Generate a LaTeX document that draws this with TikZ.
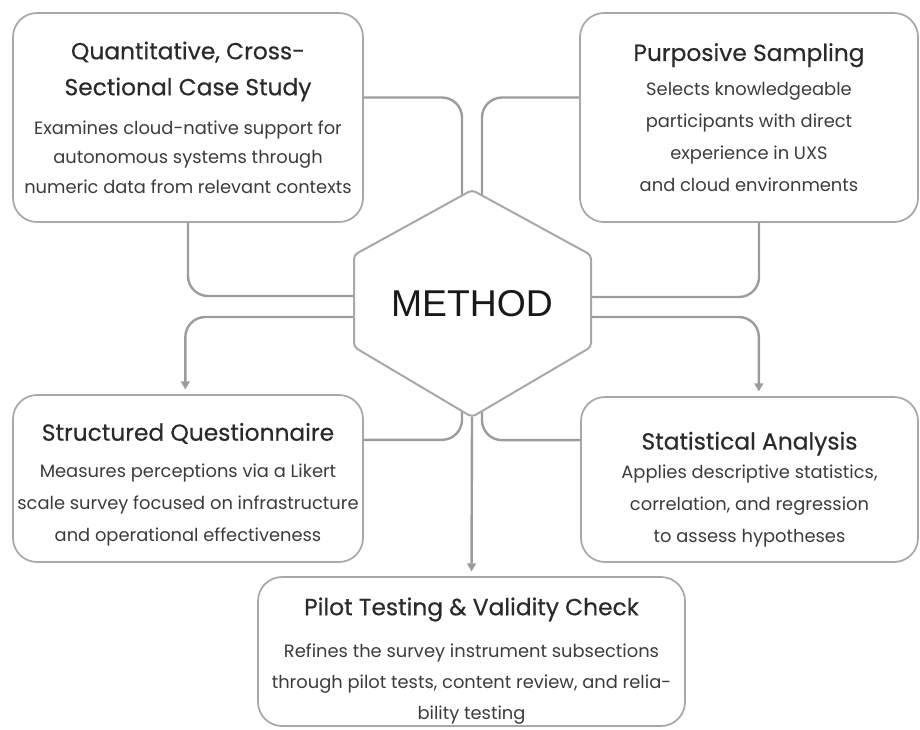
\documentclass[tikz,border=0pt]{standalone}
\usepackage{fontspec}
\usepackage{tikz}
\usepackage{xcolor}
\usetikzlibrary{arrows.meta,calc}
\setmainfont{Poppins}
\newfontfamily\cardtitlefont{Poppins}[FakeBold=0.4]
\newfontfamily\methodfont{Liberation Sans}
\definecolor{cardgray}{HTML}{A8A8A8}
\definecolor{linkgray}{HTML}{9C9C9C}
\definecolor{titleink}{HTML}{2A2A2A}
\definecolor{bodyink}{HTML}{3C3C3C}
\newcommand{\boxtitle}{\cardtitlefont\fontsize{17.5}{24}\selectfont\color{titleink}}
\newcommand{\boxbody}{\fontsize{13.4}{24}\selectfont\color{bodyink}}
\tikzset{
  card/.style={draw=cardgray, line width=1.3pt, rounded corners=18pt, fill=white, inner sep=0pt},
  cardtext/.style={align=center, font=\boxbody, inner sep=0pt},
  link/.style={draw=linkgray, line width=1.8pt, rounded corners=15pt},
  flow/.style={link, -{Triangle[length=6pt,width=6.5pt]}, shorten >=3.5pt},
}

\begin{document}
\begin{tikzpicture}[x=0.75pt,y=-0.75pt]
\useasboundingbox (0,0) rectangle (920,729);

\coordinate (hexN) at (472,190);
\coordinate (hexNE) at (591,255);
\coordinate (hexSE) at (591,347);
\coordinate (hexS) at (472,417);
\coordinate (hexSW) at (354,347);
\coordinate (hexNW) at (354,255);
\coordinate (portNW) at (462,196);% from case study
\coordinate (portNE) at (482,196);% from sampling
\coordinate (portWN) at (354,296);
\coordinate (portWS) at (354,317);
\coordinate (portEN) at (591,297);
\coordinate (portES) at (591,317);
\coordinate (portSW) at (462,411);
\coordinate (portSE) at (482,411);

% cards
\node[card, minimum width=262.5pt, minimum height=156.75pt] (quant) at (188,117.5) {};
\node[card, minimum width=253.5pt, minimum height=156.75pt] (sample) at (749,117.5) {};
\node[card, minimum width=262.5pt, minimum height=125.25pt] (quest) at (188,478.5) {};
\node[card, minimum width=252.75pt, minimum height=123.75pt] (stats) at (749.5,479.5) {};
\node[card, minimum width=320.25pt, minimum height=111.75pt] (pilot) at (471.5,651.5) {};

\node[cardtext] (quant-text) at (quant)
  {{\boxtitle Quantitative, Cross-}\\[3pt]{\boxtitle Sectional Case Study}\\[5.5pt]
   Examines cloud-native support for\\[-2pt] autonomous systems through\\[-2pt] numeric data from relevant contexts};
\node[cardtext] (sample-text) at (sample)
  {{\boxtitle Purposive Sampling}\\[2pt]
   Selects knowledgeable\\ participants with direct\\ experience in UXS\\ and cloud environments};
\node[cardtext] (quest-text) at ([yshift=-4.5pt]quest.center)
  {{\boxtitle Structured Questionnaire}\\[3.5pt]
   Measures perceptions via a Likert\\ scale survey focused on infrastructure\\ and operational effectiveness};
\node[cardtext] (stats-text) at ([yshift=-7.5pt]stats.center)
  {{\boxtitle Statistical Analysis}\\[-2.2pt]
   Applies descriptive statistics,\\ correlation, and regression\\ to assess hypotheses};
\node[cardtext] (pilot-text) at ([yshift=-7pt]pilot.center)
  {{\boxtitle Pilot Testing \& Validity Check}\\[7.5pt]
   Refines the survey instrument subsections\\[-0.7pt] through pilot tests, content review, and relia-\\[-0.7pt] bility testing};

% connectors
\draw[link] ([yshift=15pt]quant.east) -| (portNW);
\draw[link] ([yshift=15pt]sample.west) -| (portNE);
\draw[link] (quant.south) |- (portWN);
\draw[link] ([xshift=7.5pt]sample.south) |- (portEN);
\draw[flow] (portWS) -| ([xshift=-2pt]quest.north);
\draw[flow] (portES) -| ([xshift=7pt]stats.north);
\draw[link] ([yshift=29pt]quest.east) -| (portSW);
\draw[link] ([yshift=29.5pt]stats.west) -| (portSE);
\draw[flow] (hexS) -- (pilot.north);

\draw[draw=cardgray, line width=1.5pt, fill=white, rounded corners=3pt]
  (hexN) -- (hexNE) -- (hexSE) -- (hexS) -- (hexSW) -- (hexNW) -- cycle;% hexagon
\node[font=\methodfont\fontsize{28}{30}\selectfont, text=black!90] (method) at (472,304) {METHOD};
\end{tikzpicture}
\end{document}
